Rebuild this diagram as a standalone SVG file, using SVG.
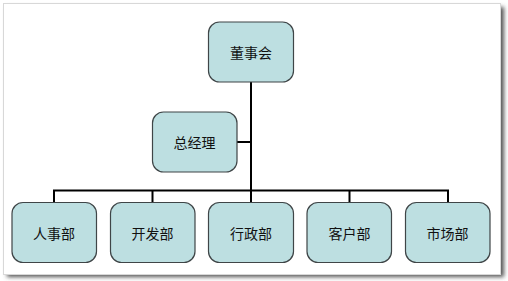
<svg xmlns="http://www.w3.org/2000/svg" width="508" height="281" viewBox="0 0 508 281">
<defs>
<filter id="sh" x="-5%" y="-5%" width="110%" height="110%">
<feGaussianBlur stdDeviation="2"/>
</filter>
</defs>
<style>
.box{fill:#bddfe1;stroke:#3f4547;stroke-width:1.2}
.lbl{font-family:"Noto Sans CJK SC","Noto Sans",sans-serif;font-size:14px;fill:#111;text-anchor:middle;dominant-baseline:central}
.ln{stroke:#000;stroke-width:2;fill:none}
</style>
<rect x="0" y="0" width="508" height="281" fill="#ffffff"/>
<rect x="7" y="7" width="497" height="270" fill="#555" filter="url(#sh)"/>
<rect x="3.5" y="3.5" width="497" height="271" fill="#ffffff" stroke="#d8d8d8" stroke-width="1"/>
<g id="connectors">
<path class="ln" d="M251,82 V202"/>
<path class="ln" d="M237,142 H251"/>
<path class="ln" d="M54,202 V190.5 H448 V202"/>
<path class="ln" d="M152.5,190.5 V202"/>
<path class="ln" d="M349.5,190.5 V202"/>
</g>
<g id="n-board"><rect class="box" x="208.5" y="22" width="85" height="60" rx="11"/><text class="lbl" x="251" y="52">董事会</text></g>
<g id="n-gm"><rect class="box" x="152.5" y="112" width="84.5" height="60" rx="11"/><text class="lbl" x="194.5" y="142">总经理</text></g>
<g id="n-hr"><rect class="box" x="12" y="202.5" width="84.5" height="60" rx="11"/><text class="lbl" x="54" y="232.5">人事部</text></g>
<g id="n-dev"><rect class="box" x="110.5" y="202.5" width="84.5" height="60" rx="11"/><text class="lbl" x="152.5" y="232.5">开发部</text></g>
<g id="n-admin"><rect class="box" x="208.5" y="202.5" width="85" height="60" rx="11"/><text class="lbl" x="251" y="232.5">行政部</text></g>
<g id="n-cust"><rect class="box" x="307" y="202.5" width="84.5" height="60" rx="11"/><text class="lbl" x="349.5" y="232.5">客户部</text></g>
<g id="n-mkt"><rect class="box" x="405.5" y="202.5" width="84.5" height="60" rx="11"/><text class="lbl" x="447.5" y="232.5">市场部</text></g>
</svg>
